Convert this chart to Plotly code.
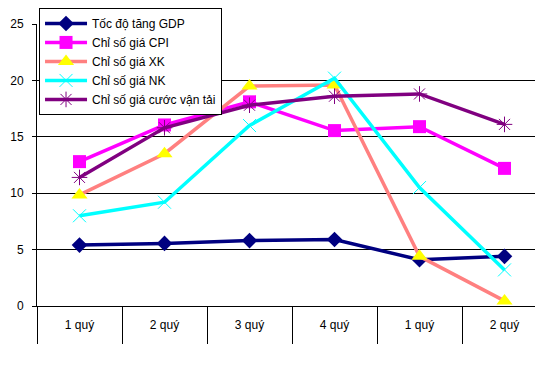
import plotly.graph_objects as go

quarters = ["1 quý", "2 quý", "3 quý", "4 quý", "1 quý", "2 quý"]
gdp = [5.4, 5.55, 5.8, 5.9, 4.1, 4.4]
cpi = [12.8, 16.05, 18.1, 15.55, 15.9, 12.2]
xk = [9.85, 13.5, 19.5, 19.6, 4.4, 0.45]
nk = [8.0, 9.2, 16.0, 20.2, 10.5, 3.2]
freight = [11.4, 15.8, 17.8, 18.6, 18.8, 16.1]

names = ["Tốc độ tăng GDP", "Chỉ số giá CPI", "Chỉ số giá XK", "Chỉ số giá NK",
         "Chỉ số giá cước vận tải"]

xpos = list(range(len(quarters)))
font_family = "Arial, Liberation Sans, sans-serif"

fig = go.Figure()
fig.add_trace(go.Scatter(x=xpos, y=gdp, name=names[0], mode="lines+markers",
                         line=dict(color="#000080", width=3.5),
                         marker=dict(symbol="diamond", size=12, color="#000080")))
fig.add_trace(go.Scatter(x=xpos, y=cpi, name=names[1], mode="lines+markers",
                         line=dict(color="#FF00FF", width=3.5),
                         marker=dict(symbol="square", size=13, color="#FF00FF")))
fig.add_trace(go.Scatter(x=xpos, y=xk, name=names[2], mode="lines+markers",
                         line=dict(color="#FF8080", width=3.5),
                         marker=dict(symbol="triangle-up", size=14, color="#FFFF00")))
fig.add_trace(go.Scatter(x=xpos, y=nk, name=names[3], mode="lines+markers",
                         line=dict(color="#00FFFF", width=3.5),
                         marker=dict(symbol="x-thin-open", size=13, color="#00FFFF",
                                     line=dict(width=1, color="#00FFFF"))))
fig.add_trace(go.Scatter(x=xpos, y=freight, name=names[4], mode="lines+markers",
                         line=dict(color="#800080", width=3.5),
                         marker=dict(symbol="asterisk-open", size=13, color="#800080",
                                     line=dict(width=1, color="#800080"))))

# The page body adds an 8px margin, so the figure is 8px smaller and margins shifted.
fig.update_layout(
    width=535, height=380,
    margin=dict(l=29, r=0, t=16, b=82, autoexpand=False),
    paper_bgcolor="white", plot_bgcolor="white",
    font=dict(family=font_family, size=12, color="black"),
    showlegend=True,
    legend=dict(x=0.004, y=1.057, xanchor="left", yanchor="top",
                bgcolor="white", bordercolor="black", borderwidth=1,
                font=dict(size=12, family=font_family, color="black"),
                itemwidth=42, tracegroupgap=0),
    xaxis=dict(range=[-0.5, 5.453], tickmode="array", tickvals=xpos, ticktext=quarters,
               ticks="", showgrid=False, zeroline=False, showline=True,
               linecolor="black", linewidth=1, ticklabelstandoff=8,
               minor=dict(tickmode="array", tickvals=[i - 0.5 for i in range(7)],
                          ticks="outside", ticklen=37, tickcolor="black", tickwidth=1,
                          showgrid=False)),
    yaxis=dict(range=[0, 25], dtick=5, tick0=0, showgrid=True, gridcolor="black",
               gridwidth=1, zeroline=False, showline=True, linecolor="black",
               linewidth=1, ticks="outside", ticklen=4, tickcolor="black",
               ticklabelstandoff=6),
)

fig.write_html("out.html")
